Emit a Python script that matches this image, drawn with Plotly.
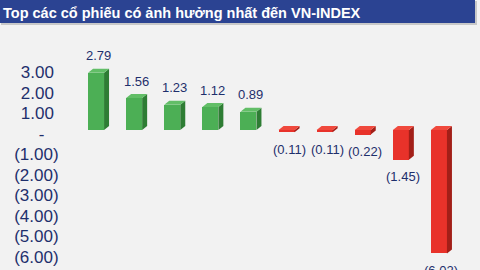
import plotly.graph_objects as go

# ---- data ----
values = [2.79, 1.56, 1.23, 1.12, 0.89, -0.11, -0.11, -0.22, -1.45, -6.02]
tick_vals = [3, 2, 1, 0, -1, -2, -3, -4, -5, -6]
tick_text = ["3.00\u00a0", "2.00\u00a0", "1.00\u00a0", "-\u00a0\u00a0\u00a0",
             "(1.00)", "(2.00)", "(3.00)", "(4.00)", "(5.00)", "(6.00)"]
title_text = "Top các cổ phiếu có ảnh hưởng nhất đến VN-INDEX"

# ---- style ----
W, H = 480, 270
ML, MR, MT, MB = 77, 22, 30, 0
PX_PER_UNIT = 20.5
ZERO_TICK_Y = 134      # px of tick-axis zero
ZERO_BAR_Y = 130       # px of bar front-face zero (3D offset)
plot_h = H - MT - MB
plot_w = W - ML - MR
step_px = plot_w / len(values)

BAR_W = 0.42
DX = 5 / step_px
DY = 4 / PX_PER_UNIT

GREEN = dict(front="#4CAF55", side="#2E7D34", top="#62BE67")
RED = dict(front="#E8322A", side="#A21F18", top="#F0493D")
NAVY = "#1E2F6C"
BG = "#F2F2F2"

x = list(range(len(values)))
colors = [GREEN if v >= 0 else RED for v in values]

fig = go.Figure()
fig.add_trace(go.Bar(
    x=x, y=values, width=BAR_W,
    marker=dict(color=[c["front"] for c in colors], line=dict(width=0)),
    yaxis="y2", hoverinfo="skip", showlegend=False,
))
# invisible trace to keep the tick axis active
fig.add_trace(go.Scatter(x=[x[0]], y=[0], mode="markers",
                         marker=dict(opacity=0), yaxis="y", showlegend=False,
                         hoverinfo="skip"))

shapes = []
for xi, v, c in zip(x, values, colors):
    top = max(0, v)
    bot = min(0, v)
    x0 = xi - BAR_W / 2
    x1 = xi + BAR_W / 2
    side = (f"M {x1},{bot} L {x1+DX},{bot+DY} L {x1+DX},{top+DY} "
            f"L {x1},{top} Z")
    topf = (f"M {x0},{top} L {x0+DX},{top+DY} L {x1+DX},{top+DY} "
            f"L {x1},{top} Z")
    shapes.append(dict(type="path", path=side, xref="x", yref="y2",
                       fillcolor=c["side"], line=dict(width=0), layer="above"))
    shapes.append(dict(type="path", path=topf, xref="x", yref="y2",
                       fillcolor=c["top"], line=dict(width=0), layer="above"))

# title band (paper coordinates)
def px_to_paper_x(px):
    return (px - ML) / plot_w

def py_to_paper_y(py):
    return 1 - (py - MT) / plot_h

shapes.append(dict(type="rect", xref="paper", yref="paper",
                   x0=px_to_paper_x(1), x1=px_to_paper_x(477),
                   y0=py_to_paper_y(25), y1=py_to_paper_y(1),
                   fillcolor="#C8C8C8", line=dict(width=0), layer="below"))
shapes.append(dict(type="rect", xref="paper", yref="paper",
                   x0=px_to_paper_x(0), x1=px_to_paper_x(475),
                   y0=py_to_paper_y(23), y1=py_to_paper_y(0),
                   fillcolor="#2B4392", line=dict(width=0), layer="below"))

annotations = []
for xi, v in zip(x, values):
    if v >= 0:
        txt = f"{v:.2f}"
        annotations.append(dict(x=xi + DX / 2, y=v + DY, xref="x", yref="y2",
                                text=txt, showarrow=False, yshift=13,
                                yanchor="middle",
                                font=dict(size=13, color=NAVY)))
    else:
        txt = f"({abs(v):.2f})"
        annotations.append(dict(x=xi + DX / 2, y=v, xref="x", yref="y2",
                                text=txt, showarrow=False, yshift=-17,
                                yanchor="middle",
                                font=dict(size=13, color=NAVY)))

top_tick = (ZERO_TICK_Y - MT) / PX_PER_UNIT
bot_tick = -(H - MB - ZERO_TICK_Y) / PX_PER_UNIT
top_bar = (ZERO_BAR_Y - MT) / PX_PER_UNIT
bot_bar = -(H - MB - ZERO_BAR_Y) / PX_PER_UNIT

fig.update_layout(
    width=W, height=H,
    margin=dict(l=ML, r=MR, t=MT, b=MB, pad=0),
    paper_bgcolor=BG, plot_bgcolor=BG,
    font=dict(family="Liberation Sans, Arial, sans-serif", color=NAVY),
    title=dict(text=f"<b>{title_text}</b>", x=3 / W, xanchor="left",
               y=1 - 12.5 / H, yanchor="middle", xref="container",
               yref="container",
               font=dict(size=14.5, color="white",
                         family="Liberation Sans, Arial, sans-serif")),
    xaxis=dict(range=[-0.5, len(values) - 0.5], visible=False,
               fixedrange=True),
    yaxis=dict(range=[bot_tick, top_tick], tickvals=tick_vals,
               ticktext=tick_text, showgrid=False, zeroline=False,
               showline=False, ticks="outside", ticklen=14,
               tickcolor="rgba(0,0,0,0)",
               tickfont=dict(size=17, color=NAVY)),
    yaxis2=dict(range=[bot_bar, top_bar], overlaying="y", visible=False),
    shapes=shapes,
    annotations=annotations,
    bargap=0,
)

fig.write_html("out.html")
